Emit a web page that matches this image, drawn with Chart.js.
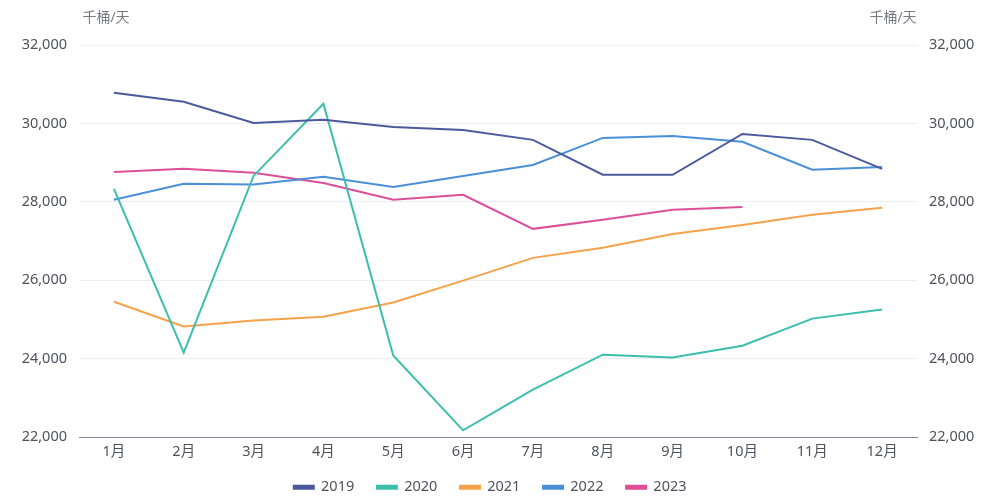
<!DOCTYPE html>
<html>
<head>
<meta charset="utf-8">
<script src="https://cdn.jsdelivr.net/npm/chart.js@4"></script>
<style>
  html, body { margin: 0; padding: 0; background: #fff; }
  #wrap { width: 990px; height: 497px; position: relative; }
</style>
</head>
<body>
<div id="wrap"><canvas id="line-chart"></canvas></div>
<script>
// Line chart, 千桶/天

const months = ["1月", "2月", "3月", "4月", "5月", "6月", "7月", "8月", "9月", "10月", "11月", "12月"];
const years = ["2019", "2020", "2021", "2022", "2023"];
const colors = ["#4b5a9c", "#3bbfad", "#f5a24b", "#4a8fd8", "#dd4f97"];

const y2019 = [30780, 30550, 30010, 30090, 29910, 29830, 29580, 28690, 28690, 29730, 29580, 28840];
const y2020 = [28330, 24150, 28660, 30500, 24080, 22170, 23210, 24100, 24030, 24330, 25020, 25250];
const y2021 = [25450, 24820, 24970, 25070, 25430, 25990, 26570, 26830, 27180, 27410, 27670, 27850];
const y2022 = [28050, 28460, 28440, 28640, 28380, 28660, 28940, 29630, 29680, 29530, 28820, 28890];
const y2023 = [28760, 28840, 28740, 28480, 28050, 28180, 27310, 27540, 27800, 27870];

const yTicks = [22000, 24000, 26000, 28000, 30000, 32000];
const unit = "千桶/天";

const series = [y2019, y2020, y2021, y2022, y2023];

const unitLabels = {
  id: "unitLabels",
  afterDraw(chart) {
    const ctx = chart.ctx;
    const left = chart.scales.y, right = chart.scales.y2;
    ctx.save();
    ctx.font = "14px 'Noto Sans', 'Noto Sans CJK SC', sans-serif";
    ctx.fillStyle = "#7a7a86";
    ctx.textAlign = "center";
    ctx.textBaseline = "middle";
    ctx.fillText(unit, left.right + 27, 18);
    ctx.fillText(unit, right.left - 24, 18);
    ctx.restore();
  }
};

const tickFont = { family: "'Noto Sans', 'Noto Sans CJK SC', sans-serif", size: 14.5 };

const yAxis = (pos) => ({
  position: pos,
  min: yTicks[0],
  max: yTicks[yTicks.length - 1],
  afterBuildTicks: (s) => { s.ticks = yTicks.map(v => ({ value: v })); },
  ticks: {
    color: "#50505e",
    font: tickFont,
    padding: 12,
    callback: (v) => v.toLocaleString("en-US")
  },
  grid: { display: pos === "left", color: "#ecedf4", drawTicks: false },
  border: { display: false },
  afterFit: (s) => { s.width = pos === "left" ? 79 : 73; }
});

new Chart(document.getElementById("line-chart"), {
  type: "line",
  data: {
    labels: months,
    datasets: years.map((yr, i) => ({
      label: yr,
      data: series[i],
      borderColor: colors[i],
      backgroundColor: colors[i],
      borderWidth: 2,
      pointRadius: 0,
      tension: 0,
      yAxisID: "y"
    }))
  },
  options: {
    responsive: true,
    maintainAspectRatio: false,
    animation: false,
    layout: { padding: { top: 45, right: 0, bottom: 0, left: 0 } },
    scales: {
      x: {
        offset: true,
        grid: { display: false, drawTicks: false },
        border: { display: true, color: "#7f849e" },
        ticks: { color: "#50505e", font: tickFont, padding: 6 },
        afterFit: (s) => { s.height = 30; }
      },
      y: yAxis("left"),
      y2: yAxis("right")
    },
    plugins: {
      legend: {
        position: "bottom",
        maxHeight: 30,
        labels: {
          boxWidth: 20,
          boxHeight: 3,
          padding: 13,
          color: "#50505e",
          font: tickFont,
          generateLabels: (chart) =>
            Chart.defaults.plugins.legend.labels.generateLabels(chart)
              .map(l => Object.assign(l, { text: l.text + "\u2002\u2009" }))
        }
      },
      tooltip: { enabled: false }
    }
  },
  plugins: [unitLabels]
});
</script>
</body>
</html>
